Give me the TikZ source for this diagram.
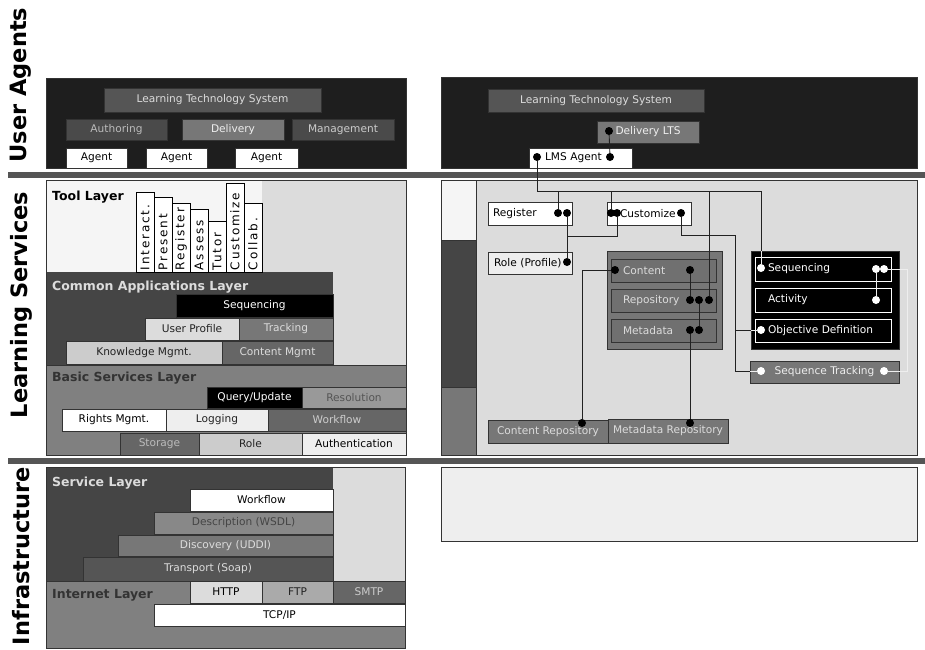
\documentclass[tikz,border=0pt]{standalone}
\usepackage{fontspec}
\setmainfont{DejaVu Sans}
\newfontfamily\toolfont[LetterSpace=15]{DejaVu Sans}
\usetikzlibrary{positioning}

\definecolor{g1E}{HTML}{1E1E1E}
\definecolor{g22}{HTML}{222222}
\definecolor{g33}{HTML}{333333}
\definecolor{g44}{HTML}{454545}
\definecolor{g4A}{HTML}{4A4A4A}
\definecolor{g55}{HTML}{555555}
\definecolor{g66}{HTML}{666666}
\definecolor{g70}{HTML}{707070}
\definecolor{g77}{HTML}{777777}
\definecolor{g80}{HTML}{808080}
\definecolor{g88}{HTML}{888888}
\definecolor{g99}{HTML}{999999}
\definecolor{gAA}{HTML}{AAAAAA}
\definecolor{gBB}{HTML}{BBBBBB}
\definecolor{gCC}{HTML}{CCCCCC}
\definecolor{gDD}{HTML}{DCDCDC}
\definecolor{gEE}{HTML}{EEEEEE}
\definecolor{gF5}{HTML}{F5F5F5}

\begin{document}
\begin{tikzpicture}[
    x=1pt, y=-1pt,
    bg/.style={anchor=north west, inner sep=0pt, outer sep=0pt},
    blk/.style={bg, draw=g33, line width=0.6pt, font=\fontsize{10.6}{12}\selectfont},
    sz/.style 2 args={minimum width=#1pt, minimum height=#2pt},
    lft/.style 2 args={inner xsep=#1pt, text width=#2pt, align=left},
    frame/.style={draw=g33, line width=0.8pt},
    title/.style={anchor=west, inner sep=0pt, font=\bfseries\fontsize{12.5}{14}\selectfont},
    side/.style={rotate=90, inner sep=0pt, font=\bfseries\fontsize{22.5}{24}\selectfont},
    tool/.style={blk, fill=white, draw=black, rotate=90, font=\toolfont\fontsize{12}{13}\selectfont},
    dot/.style={circle, fill=black, inner sep=0pt, minimum size=8pt},
    dotw/.style={dot, fill=white},
    wire/.style={draw=g22, line width=0.9pt},
    wirew/.style={draw=gEE, line width=0.9pt}
]
\useasboundingbox (0,0) rectangle (925,649);
\fill[white] (0,0) rectangle (925,649);

% Side labels
\node[side] (uaLabel) at (21,85) {User Agents};
\node[side] (lsLabel) at (21,305) {Learning Services};
\node[side] (infLabel) at (21,556) {Infrastructure};

% Separator bars
\node[bg, fill=g55, sz={917}{6}] (barTop) at (8,172) {};
\node[bg, fill=g55, sz={917}{6}] (barBottom) at (8,458) {};

% User agents, left
\node[blk, fill=g1E, sz={360}{90}] (uaLeft) at (46,78) {};
\node[blk, fill=g55, text=gDD, sz={217}{24}] (ltsLeft) at (104,88) {Learning Technology System};
\node[blk, fill=g4A, text=gBB, sz={101}{21}] (authoring) at (66,119) {Authoring};
\node[blk, fill=g77, text=gEE, sz={102}{21}] (delivery) at (182,119) {Delivery};
\node[blk, fill=g4A, text=gCC, sz={102}{21}] (management) at (292,119) {Management};
\node[blk, fill=white, sz={61}{20}] (agentA) at (66,148) {Agent};
\node[blk, fill=white, sz={61}{20}] (agentB) at (146,148) {Agent};
\node[blk, fill=white, sz={63}{20}] (agentC) at (235,148) {Agent};

% User agents, right
\node[blk, fill=g1E, sz={476}{91}] (uaRight) at (441,77) {};
\node[blk, fill=g55, text=gDD, sz={216}{23}] (ltsRight) at (488,89) {Learning Technology System};
\node[blk, fill=g77, text=gEE, sz={102}{22}] (deliveryLts) at (597,121) {Delivery LTS};
\node[blk, fill=white, sz={103}{20}, lft={16}{71}] (lmsAgent) at (529,148) {LMS Agent};

% Learning services, left
\node[blk, fill=gDD, sz={360}{275}] (lsLeft) at (46,180) {};
\node[bg, fill=gF5, sz={216}{92}] (toolBg) at (46,180) {};
\node[bg, fill=g44, sz={287}{93}] (commonBg) at (46,272) {};
\node[blk, fill=g80, sz={360}{90}] (basicBg) at (46,365) {};

\node[title] (toolTitle) at (52,197) {Tool Layer};
\node[tool, sz={80}{18}, lft={2}{76}] (colInteract) at (136,272) {Interact.};
\node[tool, sz={75}{18}, lft={2}{71}] (colPresent) at (154,272) {Present};
\node[tool, sz={69}{18}, lft={2}{65}] (colRegister) at (172,272) {Register};
\node[tool, sz={63}{18}, lft={2}{59}] (colAssess) at (190,272) {Assess};
\node[tool, sz={51}{18}, lft={2}{47}] (colTutor) at (208,272) {Tutor};
\node[tool, sz={89}{18}, lft={2}{85}] (colCustomize) at (226,272) {Customize};
\node[tool, sz={69}{18}, lft={2}{65}] (colCollab) at (244,272) {Collab.};

\node[title, text=gDD] (commonTitle) at (52,287) {Common Applications Layer};
\node[blk, fill=black, text=white, sz={157}{23}] (sequencingL) at (176,294) {Sequencing};
\node[blk, fill=gDD, text=g22, sz={94}{22}] (userProfile) at (145,318) {User Profile};
\node[blk, fill=g77, text=gDD, sz={94}{22}, right=0pt of userProfile] (tracking) {Tracking};
\node[blk, fill=gCC, text=g22, sz={156}{23}] (knowledge) at (66,341) {Knowledge Mgmt.};
\node[blk, fill=g66, text=gDD, sz={111}{23}, right=0pt of knowledge] (contentMgmt) {Content Mgmt};

\node[title, text=g33] (basicTitle) at (52,378) {Basic Services Layer};
\node[blk, fill=black, text=white, sz={95}{21}] (queryUpdate) at (207,387) {Query/Update};
\node[blk, fill=g99, text=g55, sz={104}{21}, right=0pt of queryUpdate] (resolution) {Resolution};
\node[blk, fill=white, sz={104}{22}] (rightsMgmt) at (62,409) {Rights Mgmt.};
\node[blk, fill=gEE, text=g22, sz={102}{22}, right=0pt of rightsMgmt] (logging) {Logging};
\node[blk, fill=g66, text=gCC, sz={138}{22}, right=0pt of logging] (workflowBasic) {Workflow};
\node[blk, fill=g66, text=gBB, sz={79}{22}] (storage) at (120,433) {Storage};
\node[blk, fill=gCC, text=g22, sz={103}{22}, right=0pt of storage] (role) {Role};
\node[blk, fill=gEE, sz={104}{22}, right=0pt of role] (authentication) {Authentication};
\draw[frame] (lsLeft.north west) rectangle (lsLeft.south east);

% Learning services, right
\node[blk, fill=gDD, sz={476}{275}] (lsRight) at (441,180) {};
\node[blk, fill=gF5, sz={35}{60}] (stripTop) at (441,180) {};
\node[blk, fill=g44, sz={35}{147}] (stripMid) at (441,240) {};
\node[blk, fill=g77, sz={35}{68}] (stripBottom) at (441,387) {};

\node[blk, fill=white, sz={84}{23}, lft={5}{74}] (register) at (488,202) {Register};
\node[blk, fill=white, sz={84}{23}, lft={13}{58}] (customize) at (607,202) {Customize};
\node[blk, fill=gEE, sz={84}{22}, lft={6}{72}] (roleProfile) at (488,252) {Role (Profile)};

\node[blk, fill=g77, sz={115}{98}] (contentGroup) at (607,251) {};
\node[blk, fill=g70, text=gDD, sz={105}{23}, lft={12}{81}] (content) at (611,259) {Content};
\node[blk, fill=g70, text=gDD, sz={105}{23}, lft={12}{81}] (repository) at (611,289) {Repository};
\node[blk, fill=g70, text=gDD, sz={105}{23}, lft={12}{81}] (metadata) at (611,319) {Metadata};

\node[blk, fill=g77, text=gDD, sz={120}{23}] (contentRepo) at (488,420) {Content Repository};
\node[blk, fill=g77, text=gDD, sz={120}{24}] (metadataRepo) at (608,419) {Metadata Repository};

\node[blk, fill=black, sz={148}{98}] (seqGroup) at (751,251) {};
\node[blk, fill=black, draw=white, text=white, sz={136}{24}, lft={13}{110}] (sequencingR) at (755,257) {Sequencing};
\node[blk, fill=black, draw=white, text=white, sz={136}{24}, lft={13}{110}] (activity) at (755,288) {Activity};
\node[blk, fill=black, draw=white, text=white, sz={136}{23}, lft={13}{110}] (objective) at (755,319) {Objective Definition};
\node[blk, fill=g77, text=gEE, sz={149}{22}] (seqTracking) at (750,361) {Sequence Tracking};

% Infrastructure
\node[blk, fill=gDD, sz={359}{181}] (infLeft) at (46,467) {};
\node[bg, fill=g44, sz={287}{114}] (serviceBg) at (46,467) {};
\node[blk, fill=g80, sz={359}{67}] (internetBg) at (46,581) {};
\node[title, text=gDD] (serviceTitle) at (52,483) {Service Layer};
\node[blk, fill=white, sz={143}{22}] (workflowService) at (190,489) {Workflow};
\node[blk, fill=g88, text=g44, sz={179}{22}] (wsdl) at (154,512) {Description (WSDL)};
\node[blk, fill=g77, text=gDD, sz={215}{21}] (uddi) at (118,535) {Discovery (UDDI)};
\node[blk, fill=g55, text=gDD, sz={250}{24}] (soap) at (83,557) {Transport (Soap)};
\node[title, text=g33] (internetTitle) at (52,595) {Internet Layer};
\node[blk, fill=gDD, sz={72}{22}] (http) at (190,581) {HTTP};
\node[blk, fill=gAA, text=g22, sz={71}{22}, right=0pt of http] (ftp) {FTP};
\node[blk, fill=g66, text=gCC, sz={72}{22}, right=0pt of ftp] (smtp) {SMTP};
\node[blk, fill=white, sz={251}{22}] (tcpip) at (154,604) {TCP/IP};
\draw[frame] (infLeft.north west) rectangle (infLeft.south east);
\node[blk, fill=gEE, sz={476}{74}] (infRight) at (441,467) {};

% Connection dots
\node[dot] (dDelivery) at (609,131) {};
\node[dot] (dLmsL) at (537,157) {};
\node[dot] (dLmsR) at (610,157) {};
\node[dot] (dRegA) at (558,213) {};
\node[dot] (dRegB) at (567,213) {};
\node[dot] (dCusA) at (611,213) {};
\node[dot] (dCusB) at (617,213) {};
\node[dot] (dCusC) at (681,213) {};
\node[dot] (dRole) at (567,262) {};
\node[dot] (dCntL) at (615,270) {};
\node[dot] (dCntR) at (690,270) {};
\node[dot] (dRepA) at (690,300) {};
\node[dot] (dRepB) at (699,300) {};
\node[dot] (dRepC) at (709,300) {};
\node[dot] (dMetA) at (690,330) {};
\node[dot] (dMetB) at (699,330) {};
\node[dot] (dCRepo) at (582,423) {};
\node[dot] (dMRepo) at (690,423) {};
\node[dotw] (dSeqL) at (761,268) {};
\node[dotw] (dSeqA) at (876,269) {};
\node[dotw] (dSeqB) at (884,269) {};
\node[dotw] (dAct) at (876,300) {};
\node[dotw] (dObj) at (761,330) {};
\node[dotw] (dTrkL) at (761,371) {};
\node[dotw] (dTrkR) at (884,371) {};

% Junctions
\coordinate (busLms) at (537,191);
\coordinate (jRole) at (567,236);
\coordinate (jTrack) at (735,235);
\coordinate (jSeq) at (907,269);

% Wires
\draw[wire] (dDelivery) -- (dLmsR);
\draw[wire] (dLmsL) -- (busLms) -| (dSeqL |- seqGroup.north);
\draw[wirew] (dSeqL |- seqGroup.north) -- (dSeqL);
\draw[wire] (dRegA |- busLms) -- (dRegA);
\draw[wire] (dCusA |- busLms) -- (dCusA);
\draw[wire] (dRepC |- busLms) -- (dRepC);
\draw[wire] (dRegB) -- (dRole);
\draw[wire] (dCusB) |- (jRole);
\draw[wire] (dCusC) |- (jTrack) |- (dTrkL -| seqTracking.west);
\draw[wirew] (dTrkL -| seqTracking.west) -- (dTrkL);
\draw[wire] (jTrack |- dObj) -- (dObj -| seqGroup.west);
\draw[wirew] (dObj -| seqGroup.west) -- (dObj);
\draw[wire] (dCntL) -| (dCRepo);
\draw[wire] (dCntR) -- (dRepA);
\draw[wire] (dRepB) -- (dMetB);
\draw[wire] (dMetA) -- (dMRepo);
\draw[wirew] (dSeqA) -- (dAct);
\draw[wirew] (dSeqB) -- (jSeq) |- (dTrkR);

\end{tikzpicture}
\end{document}
